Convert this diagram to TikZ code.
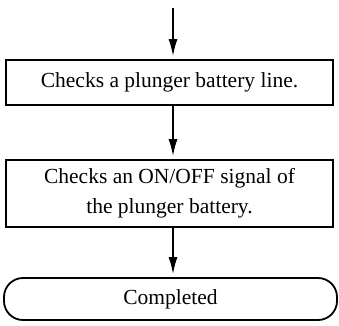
\documentclass[tikz,border=0pt]{standalone}
\usepackage{fontspec}
\setmainfont{Liberation Serif}
\usetikzlibrary{arrows.meta,positioning}

\begin{document}
\begin{tikzpicture}[x=1pt,y=-1pt,
    box/.style={draw, line width=1.8pt, minimum width=327pt, align=center,
      inner sep=0pt, font=\fontsize{21.5}{30}\selectfont},
    term/.style={draw, line width=1.8pt, rounded corners=19pt, minimum width=333pt,
      minimum height=42pt, inner sep=0pt, font=\fontsize{21.5}{25}\selectfont},
    flow/.style={-{Latex[length=17pt,width=9pt]}, line width=1.6pt, shorten >=3pt}]
        % Page frame
        \useasboundingbox (0,0) rectangle (339,325);
        % Entry point
        \coordinate (entry) at (173,8);
        % Steps
        \node[box, minimum height=45pt] (linecheck) at (169.5,82.5) {Checks a plunger battery line.};
        \node[box, minimum height=67pt] (signalcheck) at (169.5,193.5)
          {Checks an ON/OFF signal of\\the plunger battery.};
        \node[term] (done) at (170.5,299) {Completed};
        % Flow arrows
        \draw[flow] (entry) -- (entry |- linecheck.north);
        \draw[flow] (linecheck.south -| entry) -- (signalcheck.north -| entry);
        \draw[flow] (signalcheck.south -| entry) -- (done.north -| entry);
      \end{tikzpicture}
\end{document}
